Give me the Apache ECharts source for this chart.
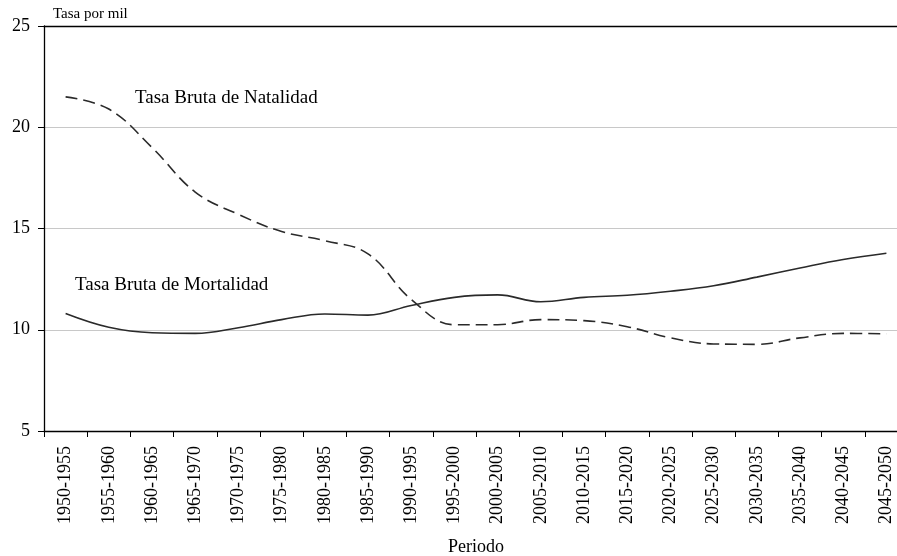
<!DOCTYPE html>
<html>
<head>
<meta charset="utf-8">
<script src="https://cdn.jsdelivr.net/npm/echarts@6/dist/echarts.min.js"></script>
<style>
html,body{margin:0;padding:0;background:#fff;overflow:hidden;}
#chart{width:897px;height:556px;}
</style>
</head>
<body>
<div id="chart"></div>
<script>
const periods = ["1950-1955","1955-1960","1960-1965","1965-1970","1970-1975","1975-1980","1980-1985","1985-1990","1990-1995","1995-2000","2000-2005","2005-2010","2010-2015","2015-2020","2020-2025","2025-2030","2030-2035","2035-2040","2040-2045","2045-2050"];
const natalidad = [21.5, 20.9, 19.0, 16.8, 15.7, 14.85, 14.4, 13.75, 11.5, 10.25, 10.25, 10.5, 10.45, 10.15, 9.6, 9.3, 9.28, 9.6, 9.82, 9.8];
const mortalidad = [10.8, 10.12, 9.85, 9.82, 10.1, 10.5, 10.78, 10.72, 11.2, 11.6, 11.72, 11.38, 11.6, 11.7, 11.9, 12.17, 12.6, 13.05, 13.47, 13.78];
const yTicks = {min: 5, max: 25, interval: 5};
const labelNatalidad = "Tasa Bruta de Natalidad";
const labelMortalidad = "Tasa Bruta de Mortalidad";

const serif = "'Liberation Serif', 'Times New Roman', serif";
const chart = echarts.init(document.getElementById('chart'), null, {renderer: 'canvas'});
chart.setOption({
  animation: false,
  backgroundColor: '#fff',
  grid: {left: 44, top: 26, bottom: 125, right: -11, containLabel: false, outerBoundsMode: 'none'},
  xAxis: [{
    type: 'category',
    data: periods,
    boundaryGap: true,
    name: 'Periodo',
    nameLocation: 'middle',
    nameGap: 107,
    nameTextStyle: {fontFamily: serif, fontSize: 18, color: '#000'},
    axisLine: {show: true, lineStyle: {color: '#000', width: 1.3}},
    axisTick: {show: true, length: 6, lineStyle: {color: '#000'}},
    axisLabel: {rotate: 90, margin: 15, fontFamily: serif, fontSize: 18, color: '#000', interval: 0},
    splitLine: {show: false}
  }, {
    type: 'category',
    data: periods,
    position: 'top',
    axisLine: {show: true, lineStyle: {color: '#000', width: 1.3}},
    axisTick: {show: false},
    axisLabel: {show: false},
    splitLine: {show: false}
  }],
  yAxis: {
    type: 'value',
    min: yTicks.min, max: yTicks.max, interval: yTicks.interval,
    name: 'Tasa por mil',
    nameLocation: 'end',
    nameGap: 4,
    nameTextStyle: {fontFamily: serif, fontSize: 15, color: '#000', align: 'left', padding: [0, 0, 0, 9]},
    axisLine: {show: true, lineStyle: {color: '#000', width: 1.3}},
    axisTick: {show: true, length: 6, lineStyle: {color: '#000'}},
    axisLabel: {margin: 14, fontFamily: serif, fontSize: 18, color: '#000'},
    splitLine: {show: true, lineStyle: {color: '#c8c8c8', width: 1}}
  },
  series: [{
    name: labelNatalidad,
    type: 'line',
    data: natalidad,
    smooth: 0.4,
    symbol: 'none',
    lineStyle: {color: '#2a2a2a', width: 1.6, type: [12, 6]},
    z: 3
  }, {
    name: labelMortalidad,
    type: 'line',
    data: mortalidad,
    smooth: 0.4,
    symbol: 'none',
    lineStyle: {color: '#2a2a2a', width: 1.6, type: 'solid'},
    z: 3
  }],
  graphic: [{
    type: 'text', left: 135, top: 89,
    style: {text: labelNatalidad, fontFamily: serif, fontSize: 19, fill: '#000'}
  }, {
    type: 'text', left: 75, top: 276,
    style: {text: labelMortalidad, fontFamily: serif, fontSize: 19, fill: '#000'}
  }]
});
</script>
</body>
</html>
